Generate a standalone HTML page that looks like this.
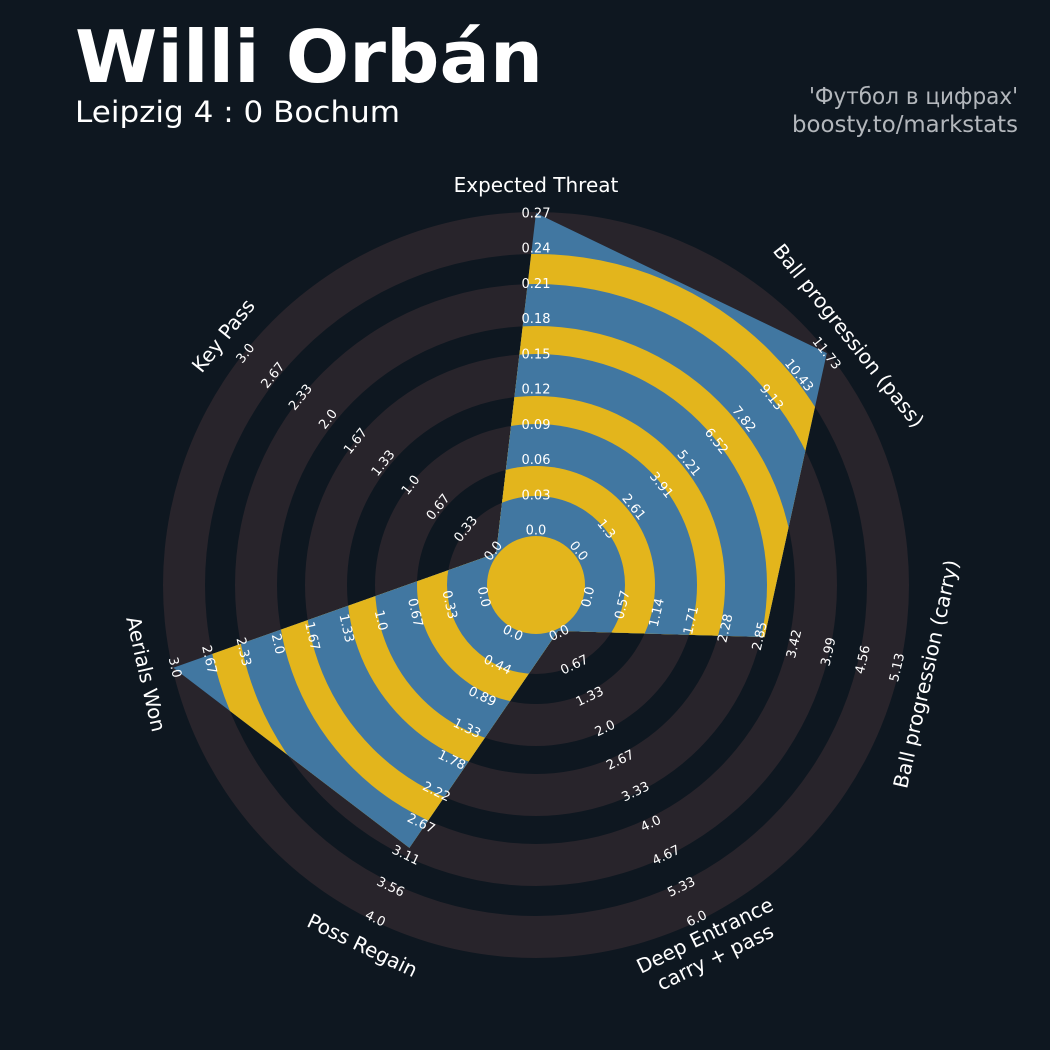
<!DOCTYPE html>
<html><head><meta charset="utf-8">
<style>
html,body{margin:0;padding:0;background:#0e1720;}
svg{display:block;}
text{font-family:"DejaVu Sans","Liberation Sans",sans-serif;}
</style></head>
<body>
<svg id="chart" width="1050" height="1050" viewBox="0 0 1050 1050" xmlns="http://www.w3.org/2000/svg">
<rect width="1050" height="1050" fill="#0e1720"/>
<text x="75" y="82" font-size="72" font-weight="bold" fill="#ffffff" textLength="468" lengthAdjust="spacingAndGlyphs">Willi Orbán</text>
<text x="75" y="122" font-size="29" fill="#ffffff" textLength="325" lengthAdjust="spacingAndGlyphs">Leipzig 4 : 0 Bochum</text>
<text x="1018" y="104" font-size="23" fill="#b3b7bc" text-anchor="end" textLength="209" lengthAdjust="spacingAndGlyphs">'Футбол в цифрах'</text>
<text x="1018" y="132" font-size="23" fill="#b3b7bc" text-anchor="end" textLength="226" lengthAdjust="spacingAndGlyphs">boosty.to/markstats</text>
<defs><clipPath id="polyclip"><path id="clipPath" d=""/></clipPath></defs>
<g id="rings"></g>
<g id="poly" clip-path="url(#polyclip)"></g>
<g id="inner"></g>
<g id="ticks"></g>
<g id="params"></g>
</svg>
<script>
const params = ["Expected Threat","Ball progression (pass)","Ball progression (carry)","Deep Entrance\ncarry + pass","Poss Regain","Aerials Won","Key Pass"];
const maxVals = [0.27, 11.73, 5.13, 6.0, 4.0, 3.0, 3.0];
const values = [0.27, 11.73, 2.93, 0.0, 3.0, 3.0, 0.0];
const tickLabels = [
 ["0.0","0.03","0.06","0.09","0.12","0.15","0.18","0.21","0.24","0.27"],
 ["0.0","1.3","2.61","3.91","5.21","6.52","7.82","9.13","10.43","11.73"],
 ["0.0","0.57","1.14","1.71","2.28","2.85","3.42","3.99","4.56","5.13"],
 ["0.0","0.67","1.33","2.0","2.67","3.33","4.0","4.67","5.33","6.0"],
 ["0.0","0.44","0.89","1.33","1.78","2.22","2.67","3.11","3.56","4.0"],
 ["0.0","0.33","0.67","1.0","1.33","1.67","2.0","2.33","2.67","3.0"],
 ["0.0","0.33","0.67","1.0","1.33","1.67","2.0","2.33","2.67","3.0"]
];
const NS="http://www.w3.org/2000/svg";
const cx=536, cy=585, r0=51, r1=372, rInner=49;
const ringEdges=[49,89,119,161,189,231,259,301,331,373];
function ang(i){return i*360/params.length;}
function pt(i,r){const a=ang(i)*Math.PI/180;return [cx+r*Math.sin(a), cy-r*Math.cos(a)];}
function rad(i,v){return r0+(v/maxVals[i])*(r1-r0);}
function tickRad(i,v){return 54+(v/maxVals[i])*317;}
function mk(tag,attrs,parent){const e=document.createElementNS(NS,tag);for(const k in attrs)e.setAttribute(k,attrs[k]);parent.appendChild(e);return e;}
const rings=document.getElementById('rings'), poly=document.getElementById('poly');
for(let k=ringEdges.length-1;k>0;k--){
  const gray=(k%2===1);
  const c1=mk('circle',{cx:cx,cy:cy,r:ringEdges[k],fill:gray?'#28242b':'#0e1720'},rings);
  
  
  const c2=mk('circle',{cx:cx,cy:cy,r:ringEdges[k],fill:gray?'#4177a1':'#e3b51c'},poly);
  
  
}
let d='';
values.forEach((v,i)=>{const p=pt(i,rad(i,v));d+=(i?'L':'M')+p[0].toFixed(1)+','+p[1].toFixed(1);});
document.getElementById('clipPath').setAttribute('d',d+'Z');
const ic=mk('circle',{cx:cx,cy:cy,r:rInner,fill:'#e3b51c'},document.getElementById('inner'));


function rot(a){return (a>90&&a<270)?a-180:a;}
const ticks=document.getElementById('ticks');
tickLabels.forEach((labs,i)=>{
  labs.forEach((lab,k)=>{
    const v=maxVals[i]*k/(labs.length-1);
    const p=pt(i,tickRad(i,v));
    const t=mk('text',{x:p[0],y:p[1],'font-size':13,fill:'#ffffff','text-anchor':'middle','dominant-baseline':'central',transform:`rotate(${rot(ang(i))} ${p[0]} ${p[1]})`},ticks);
    t.textContent=lab;
    
    
  });
});
const pg=document.getElementById('params');
params.forEach((name,i)=>{
  const p=pt(i,400);
  const lines=name.split('\n');
  const t=mk('text',{x:p[0],y:p[1],'font-size':20,fill:'#ffffff','text-anchor':'middle',transform:`rotate(${rot(ang(i))} ${p[0]} ${p[1]})`},pg);
  lines.forEach((ln,j)=>{
    const ts=mk('tspan',{x:p[0],dy:(j===0?(lines.length>1?-4:7):24)},t);
    ts.textContent=ln;
  });
  
  
});
</script>
</body></html>
